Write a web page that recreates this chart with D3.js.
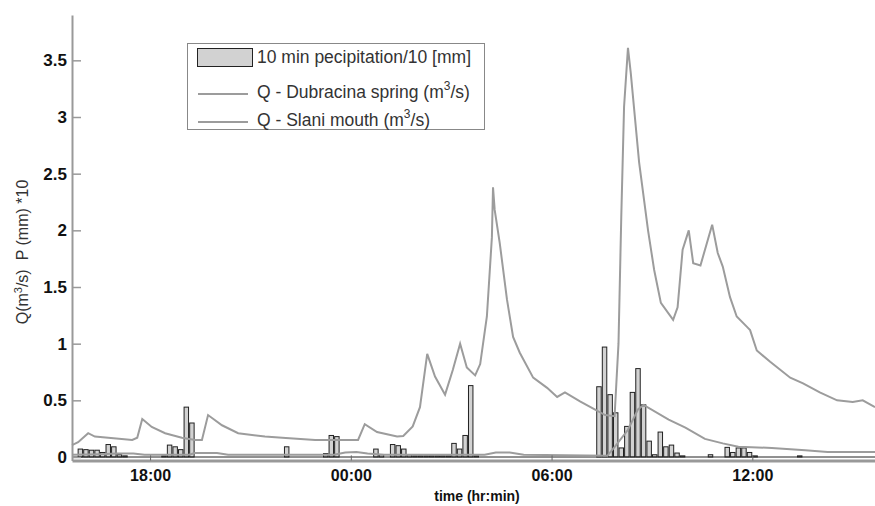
<!DOCTYPE html>
<html><head><meta charset="utf-8">
<script src="https://cdn.jsdelivr.net/npm/d3@7"></script>
<style>
body{margin:0;background:#fff;}
svg{display:block;font-family:"Liberation Sans",Arial,sans-serif;}
</style></head>
<body><svg id="c" width="875" height="506"></svg>
<script>
// ---------- data ----------
const xTickLabels = ["1 18:00","2 00:00","2 06:00","2 12:00"];
const yTickValues = [0,0.5,1,1.5,2,2.5,3,3.5];

// 10-min precipitation / 10 [mm] (start of each 10-min interval)
const rainTimes = ["1 15:50","1 16:00","1 16:10","1 16:20","1 16:30","1 16:40","1 16:50","1 17:00","1 17:10",
 "1 18:20","1 18:30","1 18:40","1 18:50","1 19:00","1 19:10",
 "1 22:00","1 23:10","1 23:20","1 23:30",
 "2 00:40","2 00:50","2 01:10","2 01:20","2 01:30","2 01:40","2 01:50","2 02:00","2 02:10","2 02:20","2 02:30","2 02:40","2 02:50",
 "2 03:00","2 03:10","2 03:20","2 03:30","2 03:40",
 "2 07:20","2 07:30","2 07:40","2 07:50","2 08:00","2 08:10","2 08:20","2 08:30","2 08:40","2 08:50","2 09:00","2 09:10","2 09:20","2 09:30","2 09:40","2 09:50",
 "2 10:40","2 11:10","2 11:20","2 11:30","2 11:40","2 11:50","2 12:00","2 13:20"];
const rainValues = [0.07,0.065,0.06,0.06,0.04,0.11,0.09,0.02,0.01,
 0.01,0.105,0.09,0.065,0.44,0.30,
 0.09,0.03,0.19,0.18,
 0.07,0.02,0.11,0.10,0.07,0.02,0.01,0.01,0.01,0.01,0.01,0.01,0.01,
 0.12,0.07,0.19,0.63,0.01,
 0.62,0.97,0.55,0.39,0.08,0.27,0.57,0.78,0.46,0.14,0.02,0.22,0.09,0.105,0.035,0.01,
 0.02,0.085,0.04,0.08,0.08,0.04,0.01,0.01];

// Q - Dubracina spring (m3/s)
const dubTimes = ["1 15:40","1 16:30","1 17:00","1 17:30","1 17:50","1 19:10","1 19:20","1 20:00","1 20:20","1 23:30","1 23:50",
 "2 00:10","2 00:30","2 01:00","2 04:00","2 04:20","2 04:45","2 05:10","2 07:40","2 07:55","2 08:17","2 08:35","2 08:45",
 "2 09:30","2 10:00","2 10:35","2 11:07","2 11:35","2 12:35","2 13:35","2 14:15","2 15:40"];
const dubValues = [0.02,0.025,0.03,0.03,0.02,0.02,0.035,0.035,0.02,0.02,0.04,
 0.045,0.03,0.02,0.02,0.04,0.04,0.02,0.01,0.1,0.24,0.42,0.46,
 0.33,0.26,0.16,0.12,0.09,0.08,0.06,0.045,0.045];

// Q - Slani mouth (m3/s)
const slaTimes = ["1 15:40","1 15:51","1 16:09","1 16:21","1 16:45","1 17:28","1 17:37","1 17:46","1 18:03","1 18:27","1 18:57","1 19:21","1 19:33",
 "1 19:44","1 20:09","1 20:38","1 21:26","1 21:57","1 22:56","1 23:46","2 00:13","2 00:25","2 00:47","2 01:23","2 01:34","2 01:51",
 "2 02:04","2 02:17","2 02:31","2 02:49","2 03:03","2 03:16","2 03:28","2 03:43","2 03:52","2 04:04","2 04:13","2 04:15","2 04:18",
 "2 04:27","2 04:40","2 04:51","2 05:03","2 05:27","2 05:52","2 06:10","2 06:24","2 06:51","2 07:14","2 07:36","2 07:53",
 "2 08:00","2 08:05","2 08:10","2 08:17","2 08:22","2 08:37","2 08:53","2 09:04","2 09:16","2 09:38","2 09:46","2 09:55",
 "2 10:06","2 10:14","2 10:27","2 10:48","2 10:58","2 11:07","2 11:20","2 11:32","2 11:50","2 11:56","2 12:08","2 12:32",
 "2 13:08","2 13:31","2 14:01","2 14:32","2 15:00","2 15:18","2 15:40"];
const slaValues = [0.105,0.13,0.21,0.18,0.17,0.15,0.17,0.335,0.265,0.21,0.17,0.15,0.15,
 0.37,0.28,0.21,0.18,0.17,0.15,0.15,0.15,0.29,0.22,0.18,0.185,0.27,
 0.44,0.91,0.71,0.55,0.77,1.0,0.79,0.72,0.82,1.24,1.94,2.38,2.18,
 1.89,1.39,1.06,0.92,0.70,0.61,0.53,0.57,0.49,0.43,0.37,0.36,
 1.0,2.12,3.09,3.61,3.39,2.6,2.0,1.65,1.36,1.21,1.32,1.83,
 2.0,1.71,1.69,2.05,1.8,1.68,1.41,1.24,1.15,1.12,0.94,0.84,
 0.70,0.65,0.57,0.50,0.485,0.50,0.44];

const legendLabels = ["10 min pecipitation/10 [mm]","Q - Dubracina spring (m","Q - Slani mouth (m"];

// ---------- drawing ----------
const parse = d3.timeParse("%d %H:%M");
const svg = d3.select("#c");
const x = d3.scaleTime().domain([parse("1 15:40"), parse("2 15:40")]).range([72, 875]);
const y = d3.scaleLinear().domain([-0.03, 3.9]).range([460.4, 15]);

const rain = rainTimes.map((t,i)=>({t:parse(t), v:rainValues[i]}));
const dub = dubTimes.map((t,i)=>({t:parse(t), v:dubValues[i]}));
const sla = slaTimes.map((t,i)=>({t:parse(t), v:slaValues[i]}));

// bars
svg.append("g").selectAll("rect").data(rain).join("rect")
  .attr("x", d => { const a=x(d.t), b=x(d3.timeMinute.offset(d.t,10)); return a+(b-a)*0.1; })
  .attr("width", d => { const a=x(d.t), b=x(d3.timeMinute.offset(d.t,10)); return (b-a)*0.8; })
  .attr("y", d => y(d.v))
  .attr("height", d => Math.max(0, y(0)-y(d.v)))
  .attr("fill", "#d2d2d2").attr("stroke", "#222").attr("stroke-width", 1);

// bar baseline
svg.append("line").attr("x1", 72).attr("x2", 875).attr("y1", y(0)).attr("y2", y(0))
  .attr("stroke", "#222").attr("stroke-width", 1);

// lines
const line = d3.line().x(d=>x(d.t)).y(d=>y(d.v));
svg.append("path").datum(dub).attr("d", line).attr("fill","none").attr("stroke","#9c9c9c").attr("stroke-width",2);
svg.append("path").datum(sla).attr("d", line).attr("fill","none").attr("stroke","#9c9c9c").attr("stroke-width",2);

// axes
const xAxis = d3.axisBottom(x).tickValues(xTickLabels.map(parse)).tickFormat(d3.timeFormat("%H:%M"))
  .tickSizeInner(-5).tickSizeOuter(0).tickPadding(9);
const gx = svg.append("g").attr("transform", `translate(0,${y.range()[0]})`).call(xAxis);
gx.select(".domain").attr("stroke", "#999").attr("stroke-width", 3);
gx.selectAll(".tick line").attr("stroke", "#666");
gx.selectAll("text").attr("font-size", 16).attr("font-weight", "bold").attr("fill", "#111");

const yAxis = d3.axisLeft(y).tickValues(yTickValues).tickFormat(d3.format("~g"))
  .tickSizeInner(-9).tickSizeOuter(0).tickPadding(5);
const gy = svg.append("g").attr("transform", "translate(72,0)").call(yAxis);
gy.select(".domain").attr("stroke", "#999").attr("stroke-width", 2);
gy.selectAll(".tick line").attr("stroke", "#999").attr("stroke-width", 1.5);
gy.selectAll("text").attr("font-size", 17).attr("font-weight", "bold").attr("fill", "#111");

// axis titles
svg.append("text").attr("x", 477).attr("y", 501).attr("text-anchor","middle")
  .attr("font-size", 14).attr("font-weight","bold").attr("fill","#111").text("time (hr:min)");
const yl = svg.append("text").attr("transform","translate(28,252) rotate(-90)").attr("text-anchor","middle")
  .attr("font-size", 16).attr("fill","#333");
yl.append("tspan").text("Q(m");
yl.append("tspan").attr("dy",-6).attr("font-size",11).text("3");
yl.append("tspan").attr("dy",6).text("/s)");
yl.append("tspan").attr("dx",9).text("P (mm) *10");

// legend
const lg = svg.append("g");
lg.append("rect").attr("x",187.5).attr("y",43.5).attr("width",297).attr("height",86)
  .attr("fill","#fff").attr("stroke","#888").attr("stroke-width",1);
lg.append("rect").attr("x",197.5).attr("y",48.5).attr("width",55).attr("height",18)
  .attr("fill","#d2d2d2").attr("stroke","#222").attr("stroke-width",1);
lg.append("line").attr("x1",198).attr("x2",248).attr("y1",94).attr("y2",94).attr("stroke","#9c9c9c").attr("stroke-width",2);
lg.append("line").attr("x1",198).attr("x2",248).attr("y1",122).attr("y2",122).attr("stroke","#9c9c9c").attr("stroke-width",2);
const ts = 17.5;
lg.append("text").attr("x",257).attr("y",63).attr("font-size",ts).attr("fill","#333").text(legendLabels[0]);
[[legendLabels[1],98],[legendLabels[2],126]].forEach(([lab,yy])=>{
  const t = lg.append("text").attr("x",257).attr("y",yy).attr("font-size",ts).attr("fill","#333");
  t.append("tspan").text(lab);
  t.append("tspan").attr("dy",-8).attr("font-size",12).text("3");
  t.append("tspan").attr("dy",8).text("/s)");
});
</script></body></html>
